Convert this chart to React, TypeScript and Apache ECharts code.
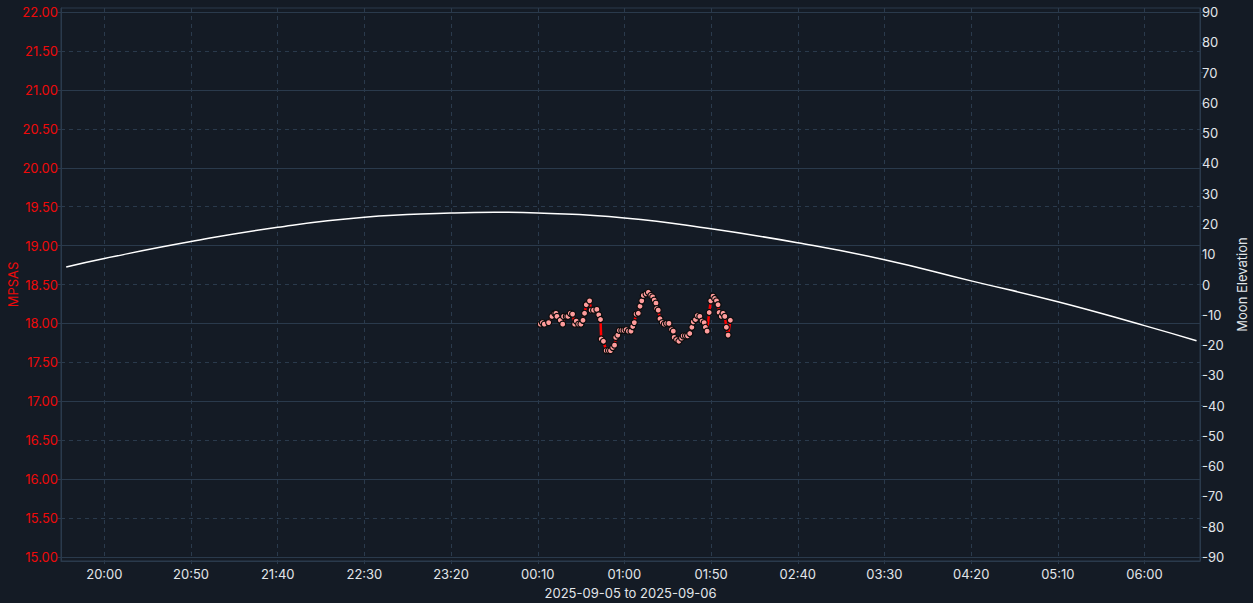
import React, { useEffect, useRef } from 'react';
import * as echarts from 'echarts';

// minutes after 20:00 on 2025-09-05
const xTickMinutes = [0, 50, 100, 150, 200, 250, 300, 350, 400, 450, 500, 550, 600];
const mpsasTicks = [15, 15.5, 16, 16.5, 17, 17.5, 18, 18.5, 19, 19.5, 20, 20.5, 21, 21.5, 22];
const mpsasMajorTicks = [15, 16, 17, 18, 19, 20, 21, 22];
const elevationTicks = [-90, -80, -70, -60, -50, -40, -30, -20, -10, 0, 10, 20, 30, 40, 50, 60, 70, 80, 90];

const moonMinutes = [-22, 0, 50, 100, 150, 200, 225, 250, 300, 350, 400, 450, 500, 550, 600, 630];
const moonElevation = [5.8, 8.6, 14.2, 18.9, 22.2, 23.6, 23.9, 23.6, 22.0, 18.4, 13.8, 8.2, 1.2, -5.7, -13.6, -18.6];

const skyMinutes = [
  251.5, 252.7, 253.8, 256.3, 258.2, 259.8, 260.5, 261.1, 263.0, 264.4,
  264.9, 266.5, 267.4, 268.8, 270.1, 271.3, 272.2, 273.6, 274.9, 276.1,
  277.0, 278.0, 279.9, 280.8, 282.2, 284.1, 285.2, 286.2, 286.6, 287.9,
  289.5, 290.8, 292.0, 293.3, 294.3, 295.0, 296.2, 297.1, 298.5, 299.8,
  301.0, 302.3, 303.8, 304.8, 305.7, 306.7, 308.0, 309.0, 310.0, 310.9,
  312.5, 313.8, 315.3, 316.3, 317.2, 318.2, 318.6, 319.5, 320.5, 321.8,
  323.0, 324.3, 325.7, 327.2, 328.2, 328.7, 330.1, 331.4, 333.0, 333.9,
  335.2, 336.4, 337.7, 338.9, 339.7, 341.0, 342.1, 343.5, 344.8, 346.0,
  346.7, 347.7, 348.9, 349.8, 351.1, 352.1, 353.1, 354.0, 354.6, 355.9,
  356.9, 357.9, 358.8, 359.8, 361.1,
];
const skyMpsas = [
  17.99, 18.01, 17.99, 18.01, 18.09, 18.13, 18.13, 18.09, 18.04, 17.99,
  18.09, 18.09, 18.09, 18.13, 18.12, 17.99, 18.03, 17.99, 17.99, 18.04,
  18.13, 18.24, 18.29, 18.17, 18.17, 18.18, 18.11, 18.05, 17.80, 17.77,
  17.65, 17.65, 17.65, 17.69, 17.72, 17.82, 17.85, 17.91, 17.91, 17.91,
  17.92, 17.90, 17.90, 17.96, 18.01, 18.12, 18.13, 18.22, 18.29, 18.36,
  18.38, 18.40, 18.36, 18.34, 18.30, 18.26, 18.19, 18.17, 18.06, 18.01,
  17.99, 18.00, 18.00, 17.92, 17.90, 17.82, 17.79, 17.77, 17.81, 17.84,
  17.84, 17.84, 17.87, 17.95, 18.02, 18.05, 18.10, 18.09, 18.03, 18.01,
  17.95, 17.90, 18.14, 18.29, 18.35, 18.32, 18.29, 18.24, 18.14, 18.09,
  18.13, 18.09, 17.95, 17.85, 18.04,
];

const BG = '#141b25';
const GRID_LINE = '#2a3a4c';
const RED = '#ee0a0a';
const LIGHT = '#e2e6ea';
const FONT = 'Inter';

function fmtTime(m: number): string {
  const total = (((20 * 60 + Math.round(m)) % 1440) + 1440) % 1440;
  const h = Math.floor(total / 60);
  const mm = total % 60;
  return String(h).padStart(2, '0') + ':' + String(mm).padStart(2, '0');
}

export default function App() {
  const ref = useRef<HTMLDivElement>(null);
  useEffect(() => {
    document.body.style.margin = '0';
    document.body.style.background = BG;
    if (!ref.current) return;
    const chart = echarts.init(ref.current, null, { renderer: 'svg' });
    const yPad = 0.054;
    const ePad = 1.39;
    chart.setOption({
      animation: false,
      backgroundColor: BG,
      textStyle: { fontFamily: FONT },
      grid: {
        left: 61,
        right: 53,
        top: 8,
        bottom: 42,
        outerBoundsMode: 'none',
        containLabel: false,
        show: true,
        borderColor: GRID_LINE,
        borderWidth: 1,
        backgroundColor: 'transparent',
      },
      xAxis: {
        type: 'value',
        min: -25,
        max: 632,
        name: '2025-09-05 to 2025-09-06',
        nameLocation: 'middle',
        nameGap: 25,
        nameMoveOverlap: false,
        nameTextStyle: { color: LIGHT, fontSize: 13, fontFamily: FONT },
        axisLine: { show: true, onZero: false, lineStyle: { color: GRID_LINE } },
        axisTick: { show: true, length: 3, customValues: xTickMinutes, lineStyle: { color: GRID_LINE } },
        axisLabel: {
          customValues: xTickMinutes,
          color: LIGHT,
          fontSize: 13,
          margin: 6,
          fontFamily: FONT,
          formatter: (v: number) => fmtTime(v),
        },
        splitLine: { show: true, lineStyle: { color: GRID_LINE, type: [4, 4], width: 1 } },
      },
      yAxis: [
        {
          type: 'value',
          position: 'left',
          min: 15 - yPad,
          max: 22 + yPad,
          name: 'MPSAS',
          nameLocation: 'middle',
          nameGap: 42,
          nameMoveOverlap: false,
          nameTextStyle: { color: RED, fontSize: 13, fontFamily: FONT },
          axisLine: { show: true, onZero: false, lineStyle: { color: GRID_LINE } },
          axisTick: { show: true, length: 3, customValues: mpsasTicks, lineStyle: { color: GRID_LINE } },
          axisLabel: {
            customValues: mpsasTicks,
            color: RED,
            fontSize: 13,
            margin: 3,
            fontFamily: FONT,
            formatter: (v: number) => v.toFixed(2),
          },
          splitLine: { show: true, lineStyle: { color: GRID_LINE, type: [4, 4], width: 1 } },
        },
        {
          type: 'value',
          position: 'right',
          min: -90 - ePad,
          max: 90 + ePad,
          name: 'Moon Elevation',
          nameLocation: 'middle',
          nameGap: 35,
          nameMoveOverlap: false,
          nameTextStyle: { color: LIGHT, fontSize: 13, fontFamily: FONT },
          axisLine: { show: true, onZero: false, lineStyle: { color: GRID_LINE } },
          axisTick: { show: true, length: 3, customValues: elevationTicks, lineStyle: { color: GRID_LINE } },
          axisLabel: {
            customValues: elevationTicks,
            color: LIGHT,
            fontSize: 13,
            margin: 2,
            fontFamily: FONT,
          },
          splitLine: { show: false },
        },
        {
          type: 'value',
          position: 'left',
          min: 15 - yPad,
          max: 22 + yPad,
          axisLine: { show: false, onZero: false },
          axisTick: { show: false, customValues: mpsasMajorTicks },
          axisLabel: { show: false, customValues: mpsasMajorTicks },
          splitLine: { show: true, lineStyle: { color: GRID_LINE, type: 'solid', width: 1 } },
        },
      ],
      series: [
        {
          name: 'Moon Elevation',
          type: 'line',
          yAxisIndex: 1,
          smooth: 0.5,
          showSymbol: false,
          silent: true,
          lineStyle: { color: '#ffffff', width: 1.5 },
          data: moonMinutes.map((m, i) => [m, moonElevation[i]]),
          z: 3,
        },
        {
          name: 'MPSAS',
          type: 'line',
          yAxisIndex: 0,
          symbol: 'circle',
          symbolSize: 6,
          showAllSymbol: true,
          lineStyle: { color: '#ff0000', width: 2.5 },
          itemStyle: { color: '#ff9c9c', borderColor: '#0c0c0c', borderWidth: 1.2 },
          data: skyMinutes.map((m, i) => [m, skyMpsas[i]]),
          z: 4,
        },
      ],
    });
    return () => chart.dispose();
  }, []);
  return <div ref={ref} style={{ width: 1253, height: 603 }} />;
}
